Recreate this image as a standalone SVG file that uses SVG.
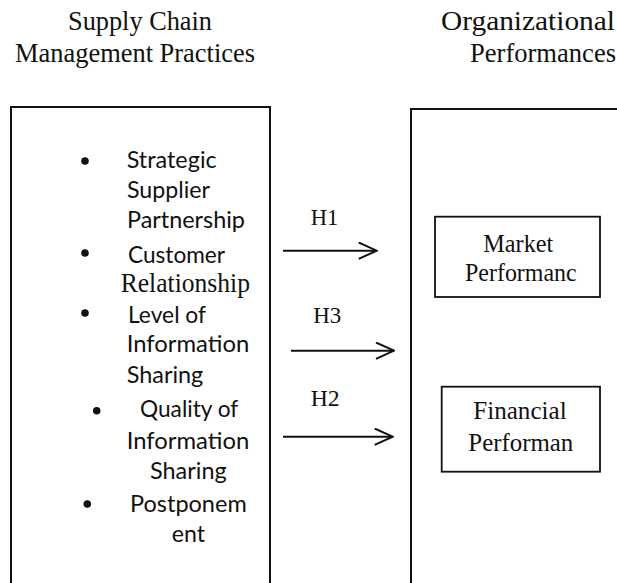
<svg xmlns="http://www.w3.org/2000/svg" width="617" height="583" viewBox="0 0 617 583">
  <style>
    .frame { fill: none; stroke: #111; stroke-width: 2; }
    .box { fill: #fff; stroke: #111; stroke-width: 1.8; }
    .serif { font-family: "Liberation Serif", "Times New Roman", serif; fill: #111; }
    .sans { font-family: Lato, "Liberation Sans", sans-serif; fill: #111; font-size: 24px; }
    .head { font-size: 26.5px; }
    .hyp { font-size: 22.5px; }
    .lbl { font-size: 25px; }
    .bullet { fill: #111; }
    .arrow { stroke: #111; stroke-width: 2; fill: none; marker-end: url(#chevron); }
  </style>
  <defs>
    <marker id="chevron" viewBox="0 0 20 18" refX="19" refY="9" markerWidth="20" markerHeight="18" markerUnits="userSpaceOnUse" orient="auto">
      <path d="M1,0.8 L19,9 L1,17.2" fill="none" stroke="#111" stroke-width="2"/>
    </marker>
  </defs>
  <rect width="617" height="583" fill="#fff"/>

  <!-- column headings -->
  <g id="heading-scm" class="serif head">
    <text x="68" y="29.5" textLength="144" lengthAdjust="spacingAndGlyphs">Supply Chain</text>
    <text x="15" y="61.7" textLength="240" lengthAdjust="spacingAndGlyphs">Management Practices</text>
  </g>
  <g id="heading-op" class="serif head">
    <text x="441" y="30" textLength="174" lengthAdjust="spacingAndGlyphs">Organizational</text>
    <text x="470" y="62" textLength="146" lengthAdjust="spacingAndGlyphs">Performances</text>
  </g>

  <!-- practices column -->
  <g id="practices">
    <path class="frame" d="M11,590 V107 H270 V590"/>
    <circle class="bullet" cx="85" cy="161" r="3.8"/>
    <circle class="bullet" cx="85" cy="253" r="3.8"/>
    <circle class="bullet" cx="85" cy="313" r="3.8"/>
    <circle class="bullet" cx="96.7" cy="410.7" r="3.8"/>
    <circle class="bullet" cx="87.3" cy="504" r="3.8"/>
    <g class="sans">
      <text x="126.7" y="168" textLength="90" lengthAdjust="spacingAndGlyphs">Strategic</text>
      <text x="127" y="198" textLength="83" lengthAdjust="spacingAndGlyphs">Supplier</text>
      <text x="127" y="228" textLength="118" lengthAdjust="spacingAndGlyphs">Partnership</text>
      <text x="128" y="263" textLength="97" lengthAdjust="spacingAndGlyphs">Customer</text>
      <text x="128" y="322.7" textLength="78" lengthAdjust="spacingAndGlyphs">Level of</text>
      <text x="126.7" y="352" textLength="122.6" lengthAdjust="spacingAndGlyphs">Information</text>
      <text x="126.7" y="383.3" textLength="76.6" lengthAdjust="spacingAndGlyphs">Sharing</text>
      <text x="140" y="417.3" textLength="98.3" lengthAdjust="spacingAndGlyphs">Quality of</text>
      <text x="126.7" y="449.3" textLength="122.6" lengthAdjust="spacingAndGlyphs">Information</text>
      <text x="150" y="479.3" textLength="76.7" lengthAdjust="spacingAndGlyphs">Sharing</text>
      <text x="130" y="511.7" textLength="116.7" lengthAdjust="spacingAndGlyphs">Postponem</text>
      <text x="171.7" y="541.7" textLength="33.3" lengthAdjust="spacingAndGlyphs">ent</text>
    </g>
    <text class="serif" font-size="26.5" x="120.7" y="291.7" textLength="129.3" lengthAdjust="spacingAndGlyphs">Relationship</text>
  </g>

  <!-- performance column -->
  <g id="performances">
    <path class="frame" d="M411,590 V109 H620"/>
  </g>
  <g id="market-performance">
    <rect class="box" x="435" y="216.7" width="165" height="80.3"/>
    <g class="serif lbl">
      <text x="483.3" y="251.7" textLength="70" lengthAdjust="spacingAndGlyphs">Market</text>
      <text x="465" y="281" textLength="111.7" lengthAdjust="spacingAndGlyphs">Performanc</text>
    </g>
  </g>
  <g id="financial-performance">
    <rect class="box" x="441.7" y="386.7" width="158.3" height="85"/>
    <g class="serif lbl">
      <text x="473.3" y="419.3" textLength="93.3" lengthAdjust="spacingAndGlyphs">Financial</text>
      <text x="468.3" y="451" textLength="105" lengthAdjust="spacingAndGlyphs">Performan</text>
    </g>
  </g>

  <!-- hypothesis arrows -->
  <g id="connectors">
    <line class="arrow" x1="283" y1="250.7" x2="376.7" y2="250.7"/>
    <line class="arrow" x1="291" y1="350.7" x2="394" y2="350.7"/>
    <line class="arrow" x1="283" y1="436.7" x2="392.7" y2="436.7"/>
    <g class="serif hyp">
      <text x="310.7" y="225" textLength="27.6" lengthAdjust="spacingAndGlyphs">H1</text>
      <text x="313.3" y="323.3" textLength="28" lengthAdjust="spacingAndGlyphs">H3</text>
      <text x="310.7" y="406" textLength="29" lengthAdjust="spacingAndGlyphs">H2</text>
    </g>
  </g>
</svg>
